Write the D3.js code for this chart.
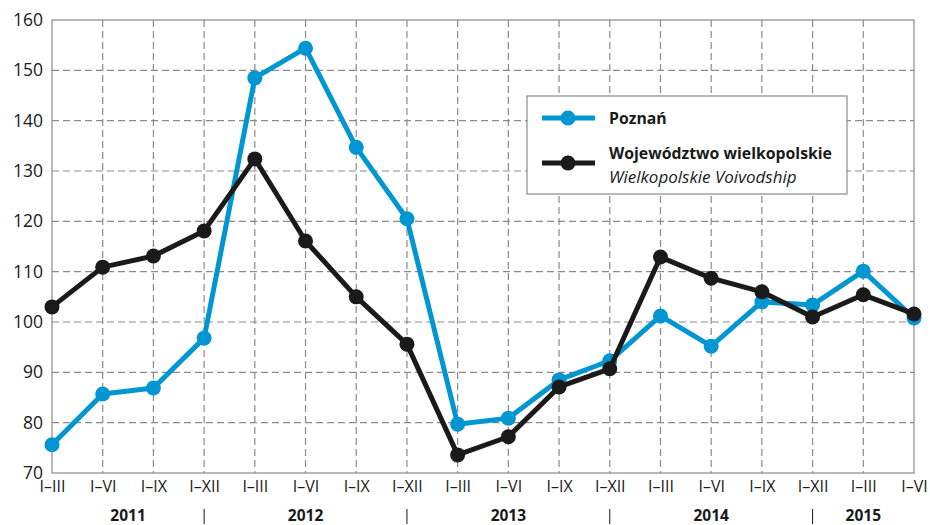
<!DOCTYPE html>
<html>
<head>
<meta charset="utf-8">
<script src="https://cdn.jsdelivr.net/npm/d3@7"></script>
<style>
  body { margin: 0; background: #fff; }
  svg { font-family: "Open Sans", "Noto Sans", sans-serif; }
</style>
</head>
<body>
<div id="chart"></div>
<script>
// Categories (cumulative periods) and years
const periods = ['I–III', 'I–VI', 'I–IX', 'I–XII',
  'I–III', 'I–VI', 'I–IX', 'I–XII',
  'I–III', 'I–VI', 'I–IX', 'I–XII',
  'I–III', 'I–VI', 'I–IX', 'I–XII',
  'I–III', 'I–VI'];
const years = ['2011', '2012', '2013', '2014', '2015'];
const yearStart = [0, 4, 8, 12, 16];
const yearEnd = [3, 7, 11, 15, 17];

const poznan = [75.6, 85.7, 86.9, 96.8, 148.5, 154.4, 134.7, 120.5,
  79.7, 80.9, 88.5, 92.3, 101.2, 95.2, 104.0, 103.4, 110.1, 100.8];
const wielkopolskie = [103.0, 110.9, 113.1, 118.1, 132.4, 116.1, 105.0, 95.6,
  73.6, 77.2, 87.1, 90.7, 112.9, 108.7, 106.0, 101.0, 105.4, 101.6];

const yTicks = [70, 80, 90, 100, 110, 120, 130, 140, 150, 160];

const seriesNames = ['Poznań', 'Województwo wielkopolskie'];
const seriesSub = ['', 'Wielkopolskie Voivodship'];
const colors = ['#0096d2', '#1a1a1a'];

const width = 930;
const height = 525;
const plot = { left: 52, right: 914, top: 20, bottom: 473 };

const svg = d3.select('#chart')
  .append('svg')
  .attr('width', width)
  .attr('height', height);

const idx = d3.range(periods.length);
const x = d3.scalePoint().domain(idx).range([plot.left, plot.right]);
const y = d3.scaleLinear().domain([70, 160]).range([plot.bottom, plot.top]);

// Grid lines
svg.append('g')
  .selectAll('line')
  .data(yTicks.slice(1, -1))
  .enter()
  .append('line')
  .attr('x1', plot.left).attr('x2', plot.right)
  .attr('y1', (d) => y(d)).attr('y2', (d) => y(d))
  .attr('stroke', '#8a8a8a')
  .attr('stroke-width', 1.2)
  .attr('stroke-dasharray', '7,4');

svg.append('g')
  .selectAll('line')
  .data(idx.slice(1, -1))
  .enter()
  .append('line')
  .attr('x1', (d) => x(d)).attr('x2', (d) => x(d))
  .attr('y1', plot.top).attr('y2', plot.bottom)
  .attr('stroke', '#8a8a8a')
  .attr('stroke-width', 1.2)
  .attr('stroke-dasharray', '7,4');

// Frame
svg.append('rect')
  .attr('x', plot.left).attr('y', plot.top)
  .attr('width', plot.right - plot.left).attr('height', plot.bottom - plot.top)
  .attr('fill', 'none')
  .attr('stroke', '#8a8a8a')
  .attr('stroke-width', 1.2);

// Y axis labels
const yAxis = svg.append('g')
  .attr('transform', `translate(${plot.left},0)`)
  .call(d3.axisLeft(y).tickValues(yTicks).tickSize(0).tickPadding(9));
yAxis.select('.domain').remove();
yAxis.selectAll('text')
  .attr('font-size', 17.5)
  .attr('fill', '#1a1a1a')
  .attr('font-family', '"Open Sans", sans-serif');

// X axis labels
const xAxis = svg.append('g')
  .attr('transform', `translate(0,${plot.bottom})`)
  .call(d3.axisBottom(x).tickFormat((i) => periods[i]).tickSize(0).tickPadding(8));
xAxis.select('.domain').remove();
xAxis.selectAll('text')
  .attr('font-size', 16)
  .attr('fill', '#1a1a1a')
  .attr('font-family', '"Open Sans", sans-serif');

// Year labels and separators
svg.append('g')
  .selectAll('text')
  .data(years)
  .enter()
  .append('text')
  .attr('x', (d, i) => {
    const a = i === 0 ? plot.left : x(yearStart[i] - 1);
    const b = x(yearEnd[i]);
    return (a + b) / 2;
  })
  .attr('y', 521)
  .attr('text-anchor', 'middle')
  .attr('font-size', 15.5)
  .attr('font-weight', 'bold')
  .attr('fill', '#1a1a1a')
  .text((d) => d);

svg.append('g')
  .selectAll('line')
  .data(yearEnd.slice(0, -1))
  .enter()
  .append('line')
  .attr('x1', (d) => x(d)).attr('x2', (d) => x(d))
  .attr('y1', 509).attr('y2', 524)
  .attr('stroke', '#1a1a1a')
  .attr('stroke-width', 1);

// Series
const line = d3.line()
  .x((d, i) => x(i))
  .y((d) => y(d));

[poznan, wielkopolskie].forEach((values, s) => {
  const g = svg.append('g');
  g.append('path')
    .datum(values)
    .attr('d', line)
    .attr('fill', 'none')
    .attr('stroke', colors[s])
    .attr('stroke-width', 5)
    .attr('stroke-linejoin', 'round');
  g.selectAll('circle')
    .data(values)
    .enter()
    .append('circle')
    .attr('cx', (d, i) => x(i))
    .attr('cy', (d) => y(d))
    .attr('r', 7.5)
    .attr('fill', colors[s]);
});

// Legend
const legend = svg.append('g');
legend.append('rect')
  .attr('x', 527).attr('y', 96)
  .attr('width', 320).attr('height', 98)
  .attr('fill', '#fff')
  .attr('stroke', '#8a8a8a')
  .attr('stroke-width', 1.2);

const legendY = [118, 163];
seriesNames.forEach((name, s) => {
  legend.append('line')
    .attr('x1', 542).attr('x2', 595)
    .attr('y1', legendY[s]).attr('y2', legendY[s])
    .attr('stroke', colors[s])
    .attr('stroke-width', 5);
  legend.append('circle')
    .attr('cx', 568).attr('cy', legendY[s])
    .attr('r', 7.5)
    .attr('fill', colors[s]);
  legend.append('text')
    .attr('x', 609)
    .attr('y', s === 0 ? legendY[s] + 6 : legendY[s] - 4)
    .attr('font-size', 15.8)
    .attr('font-weight', 'bold')
    .attr('fill', '#1a1a1a')
    .text(name);
  if (seriesSub[s]) {
    legend.append('text')
      .attr('x', 609)
      .attr('y', legendY[s] + 20)
      .attr('font-size', 17)
      .attr('font-style', 'italic')
      .attr('fill', '#1a1a1a')
      .text(seriesSub[s]);
  }
});
</script>
</body>
</html>
